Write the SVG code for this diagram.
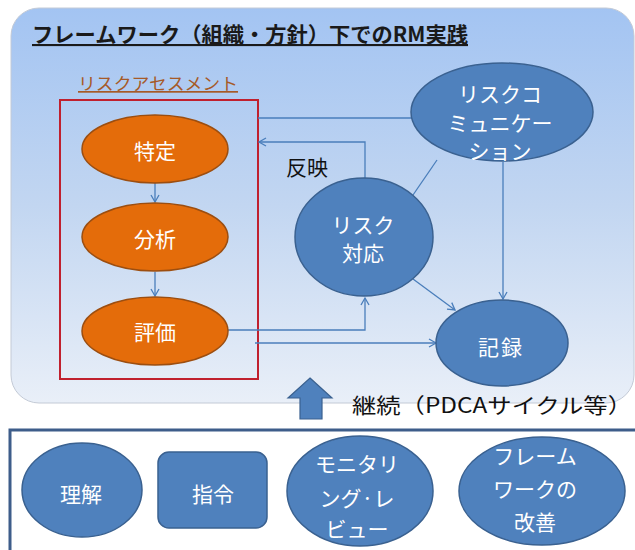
<svg xmlns="http://www.w3.org/2000/svg" width="635" height="550" viewBox="0 0 635 550">
<defs>
<linearGradient id="bg" x1="0" y1="0" x2="0" y2="1">
<stop offset="0" stop-color="#a3c4f2"/>
<stop offset="0.5" stop-color="#c2d6f1"/>
<stop offset="1" stop-color="#e9eff8"/>
</linearGradient>
<marker id="ah" markerWidth="10" markerHeight="10" refX="8" refY="5" orient="auto" markerUnits="userSpaceOnUse">
<path d="M1,1 L8,5 L1,9" fill="none" stroke="#4a7ebb" stroke-width="1.3"/>
</marker>
<style>
text{font-family:"Noto Sans CJK JP","Noto Sans",sans-serif;}
.or{fill:#e46c0a;stroke:#9c4e10;stroke-width:1.5;}
.bl{fill:#4f81bd;stroke:#3a6190;stroke-width:1.5;}
.wt{fill:#ffffff;font-size:21px;text-anchor:middle;}
.cn{fill:none;stroke:#4a7ebb;stroke-width:1.3;}
</style>
</defs>
<rect x="0" y="0" width="635" height="550" fill="#ffffff"/>
<g id="top-panel">
<rect x="11" y="8" width="623" height="395" rx="28" fill="url(#bg)" stroke="#c3cad6" stroke-width="1"/>
<text x="32" y="42" font-size="21" font-weight="bold" fill="#1a1a1a" text-decoration="underline" textLength="436" lengthAdjust="spacingAndGlyphs">フレームワーク（組織・方針）下でのRM実践</text>
</g>
<g id="risk-assessment">
<text x="78" y="90" font-size="17" fill="#a65a28" text-decoration="underline" textLength="160" lengthAdjust="spacingAndGlyphs">リスクアセスメント</text>
<rect x="60" y="100" width="198" height="279" fill="none" stroke="#c0202e" stroke-width="2"/>
</g>
<g id="connectors">
<line class="cn" x1="155" y1="183" x2="155" y2="202" marker-end="url(#ah)"/>
<line class="cn" x1="155" y1="272" x2="155" y2="296" marker-end="url(#ah)"/>
<line class="cn" x1="258" y1="118" x2="412" y2="118"/>
<polyline class="cn" points="365,178 365,142 259,142" marker-end="url(#ah)"/>
<line class="cn" x1="437" y1="160" x2="413" y2="195"/>
<line class="cn" x1="503" y1="162" x2="503" y2="299" marker-end="url(#ah)"/>
<line class="cn" x1="413" y1="279" x2="455" y2="310" marker-end="url(#ah)"/>
<polyline class="cn" points="228,330 365,330 365,298" marker-end="url(#ah)"/>
<line class="cn" x1="255" y1="343" x2="436" y2="343" marker-end="url(#ah)"/>
<line class="cn" x1="433" y1="491" x2="458" y2="491" marker-end="url(#ah)"/>
</g>
<g id="node-tokutei">
<ellipse class="or" cx="155" cy="149" rx="73" ry="34"/>
<text class="wt" x="155" y="159" font-size="23">特定</text>
</g>
<g id="node-bunseki">
<ellipse class="or" cx="155" cy="237" rx="73" ry="34"/>
<text class="wt" x="155" y="247" font-size="23">分析</text>
</g>
<g id="node-hyouka">
<ellipse class="or" cx="155" cy="331" rx="73" ry="34"/>
<text class="wt" x="155" y="340" font-size="23">評価</text>
</g>
<g id="label-hanei">
<text x="286" y="175" font-size="21" fill="#111111">反映</text>
</g>
<g id="node-risk-communication">
<ellipse class="bl" cx="502" cy="112" rx="91" ry="49"/>
<text class="wt" x="500" y="102">リスクコ</text>
<text class="wt" x="500" y="131">ミュニケー</text>
<text class="wt" x="500" y="159">ション</text>
</g>
<g id="node-risk-response">
<ellipse class="bl" cx="364" cy="237" rx="69" ry="59"/>
<text class="wt" x="363" y="233">リスク</text>
<text class="wt" x="363" y="261">対応</text>
</g>
<g id="node-kiroku">
<ellipse class="bl" cx="502" cy="343" rx="66" ry="43"/>
<text class="wt" x="501" y="355" font-size="24" letter-spacing="2">記録</text>
</g>
<g id="continuation">
<path d="M310,378 L332,398 L322,398 L322,419 L300,419 L300,398 L288,398 Z" fill="#4f81bd" stroke="#3a6190" stroke-width="1.2"/>
<text x="352" y="413" font-size="21" fill="#111111" textLength="280" lengthAdjust="spacingAndGlyphs">継続（PDCAサイクル等）</text>
</g>
<g id="bottom-panel">
<rect x="10" y="430" width="640" height="140" fill="#ffffff" stroke="#3d5d8a" stroke-width="3"/>
</g>
<g id="node-rikai">
<ellipse class="bl" cx="82" cy="490" rx="60" ry="47"/>
<text class="wt" x="81" y="502" font-size="24">理解</text>
</g>
<g id="node-shirei">
<rect class="bl" x="158" y="452" width="109" height="76" rx="11"/>
<text class="wt" x="213" y="502" font-size="24">指令</text>
</g>
<g id="node-monitoring">
<ellipse class="bl" cx="360" cy="491" rx="73" ry="55"/>
<text class="wt" x="357" y="472">モニタリ</text>
<text class="wt" x="357" y="506">ング·レ</text>
<text class="wt" x="357" y="537">ビュー</text>
</g>
<g id="node-framework-improve">
<ellipse class="bl" cx="542" cy="491" rx="83" ry="54"/>
<text class="wt" x="535" y="464">フレーム</text>
<text class="wt" x="535" y="497">ワークの</text>
<text class="wt" x="535" y="530">改善</text>
</g>
</svg>
